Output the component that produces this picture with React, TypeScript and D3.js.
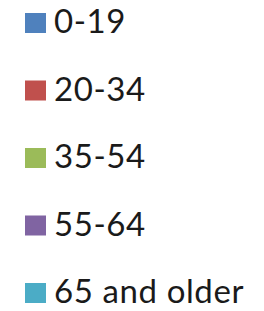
import React from "react";
import * as d3 from "d3";

const categories = ["0-19", "20-34", "35-54", "55-64", "65 and older"];
const colors = ["#4F81BD", "#C0504D", "#9BBB59", "#8064A2", "#4BACC6"];

export default function App() {
  const width = 264;
  const height = 311;
  const y = d3.scalePoint<string>().domain(categories).range([33, 303]);
  return (
    <svg width={width} height={height} style={{ position: "absolute", left: 0, top: 0, background: "#fff" }}>
      {categories.map((c, i) => (
        <g key={c}>
          <rect x={25} y={(y(c) as number) - 20} width={21} height={20} fill={colors[i]} />
          <text x={54} y={y(c) as number} fontFamily="Lato, 'Open Sans', sans-serif" fontSize={33} letterSpacing={0.6} fill="#1a1a1a">
            {c}
          </text>
        </g>
      ))}
    </svg>
  );
}
